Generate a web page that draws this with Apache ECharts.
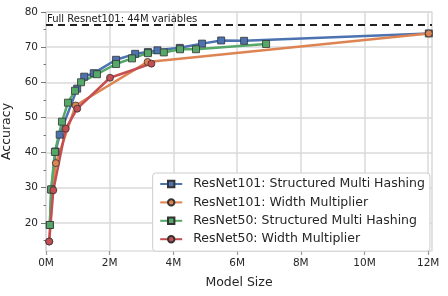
<!DOCTYPE html>
<html>
<head>
<meta charset="utf-8">
<script src="https://cdn.jsdelivr.net/npm/echarts@6/dist/echarts.min.js"></script>
<style>html,body{margin:0;padding:0;background:#fff}#c{width:448px;height:296px}</style>
</head>
<body>
<div id="c"></div>
<script>
// ---- data (model size in millions of variables, accuracy %) ----
const r101SmhX = [0.12, 0.17, 0.30, 0.43, 0.98, 1.20, 1.50, 2.20, 2.80, 3.20, 3.50, 4.20, 4.90, 5.50, 6.22, 12.02];
const r101SmhY = [19.4, 29.5, 40.3, 45.1, 58.2, 61.6, 62.6, 66.4, 68.1, 68.6, 69.1, 69.8, 71.0, 71.9, 71.8, 73.9];
const r101WmX = [0.10, 0.20, 0.31, 0.93, 3.19, 12.02];
const r101WmY = [14.7, 29.3, 37.0, 53.4, 65.8, 73.9];
const r50SmhX = [0.12, 0.16, 0.28, 0.50, 0.69, 0.91, 1.10, 1.60, 2.20, 2.70, 3.20, 3.70, 4.21, 4.71, 6.91];
const r50SmhY = [19.4, 29.5, 40.2, 48.8, 54.2, 57.6, 60.0, 62.3, 65.2, 66.8, 68.3, 68.5, 69.4, 69.4, 70.9];
const r50WmX = [0.10, 0.23, 0.62, 0.98, 2.01, 3.31];
const r50WmY = [14.7, 29.3, 46.8, 52.5, 61.3, 65.3];
const seriesNames = [
  'ResNet101: Structured Multi Hashing',
  'ResNet101: Width Multiplier',
  'ResNet50: Structured Multi Hashing',
  'ResNet50: Width Multiplier'
];
const fullModelAcc = 76.35;
const fullModelLabel = 'Full Resnet101: 44M variables';
const xTicks = [0, 2, 4, 6, 8, 10, 12];
const yTicks = [20, 30, 40, 50, 60, 70, 80];
const yMinorTicks = [15, 25, 35, 45, 55, 65, 75];

const zip = (xs, ys) => xs.map((x, i) => [x, ys[i]]);
const colors = ['#4C72B0', '#DD8452', '#55A868', '#C44E52'];
const symbols = ['rect', 'circle', 'rect', 'circle'];
const datas = [zip(r101SmhX, r101SmhY), zip(r101WmX, r101WmY), zip(r50SmhX, r50SmhY), zip(r50WmX, r50WmY)];
const FONT = 'DejaVu Sans';

const series = datas.map((d, i) => ({
  name: seriesNames[i],
  type: 'line',
  data: d,
  symbol: symbols[i],
  symbolSize: 7,
  showAllSymbol: true,
  lineStyle: { color: colors[i], width: 2.5 },
  itemStyle: { color: colors[i], borderColor: '#333', borderWidth: 0.8 },
  emphasis: { disabled: true },
  z: 3
}));
series.push({
  type: 'line',
  data: [],
  silent: true,
  z: 2,
  markLine: {
    silent: true,
    symbol: 'none',
    animation: false,
    lineStyle: { color: '#222', width: 2.2, type: [7, 5] },
    label: {
      show: true,
      position: 'insideStartTop',
      formatter: fullModelLabel,
      fontFamily: FONT,
      fontSize: 10,
      color: '#222',
      distance: [1, 0]
    },
    data: [{ yAxis: fullModelAcc }]
  }
});

const chart = echarts.init(document.getElementById('c'), null, { renderer: 'canvas' });
chart.setOption({
  animation: false,
  backgroundColor: '#fff',
  grid: { left: 46, right: 16, top: 12, bottom: 45, containLabel: false, outerBoundsMode: 'none', show: true, borderColor: '#d0d0d0', borderWidth: 1.2, backgroundColor: 'transparent' },
  xAxis: {
    type: 'value', min: 0, max: 12.12, splitNumber: 6,
    name: 'Model Size', nameLocation: 'middle', nameGap: 25,
    nameTextStyle: { fontFamily: FONT, fontSize: 12.5, color: '#262626' },
    axisLine: { show: false },
    axisTick: { show: true, length: 4, lineStyle: { color: '#999', width: 1.2 }, customValues: xTicks },
    axisLabel: { fontFamily: FONT, fontSize: 10.5, color: '#262626', margin: 7, customValues: xTicks, formatter: v => v + 'M' },
    splitLine: { show: true, lineStyle: { color: '#dadada', width: 1.5 } }
  },
  yAxis: [{
    type: 'value', min: 12, max: 80, splitNumber: 7,
    name: 'Accuracy', nameLocation: 'middle', nameGap: 19,
    nameTextStyle: { fontFamily: FONT, fontSize: 12.5, color: '#262626' },
    axisLine: { show: false },
    axisTick: { show: true, length: 5, lineStyle: { color: '#777', width: 1 }, customValues: yTicks },
    axisLabel: { fontFamily: FONT, fontSize: 10.5, color: '#262626', margin: 8, customValues: yTicks },
    splitLine: { show: true, lineStyle: { color: '#dadada', width: 1.5 } }
  }, {
    type: 'value', min: 12, max: 80, position: 'left',
    axisLine: { show: false },
    axisTick: { show: true, length: 2.5, lineStyle: { color: '#777', width: 1 }, customValues: yMinorTicks },
    axisLabel: { show: false },
    splitLine: { show: false }
  }],
  legend: {
    orient: 'vertical',
    left: 152.7, top: 173,
    itemWidth: 22, itemHeight: 8, itemGap: 4.4,
    padding: [4, 5, 5, 6.5],
    backgroundColor: '#fff',
    borderColor: '#cccccc', borderWidth: 1, borderRadius: 3,
    textStyle: { fontFamily: FONT, fontSize: 12.5, color: '#262626', lineHeight: 14, padding: [0, 0, 0, 6] },
    data: seriesNames
  },
  series: series
});
</script>
</body>
</html>
